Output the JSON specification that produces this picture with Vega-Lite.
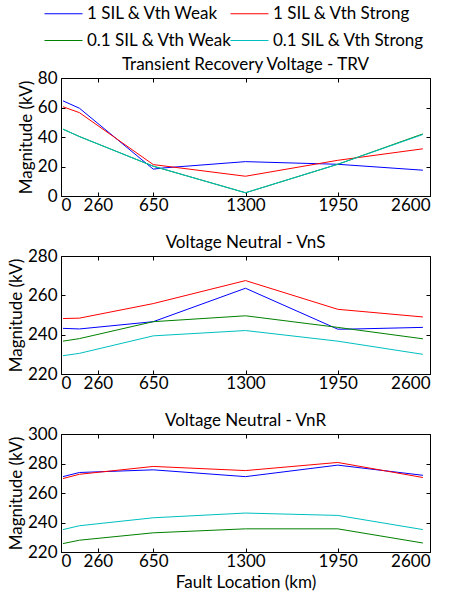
{
  "$schema": "https://vega.github.io/schema/vega-lite/v6.json",
  "padding": {"left": 6, "top": 3, "right": 10, "bottom": 2},
  "config": {
    "font": "Lato",
    "view": {"stroke": "#000000", "strokeWidth": 1},
    "axis": {"grid": false, "domain": false, "tickColor": "#000000", "tickSize": -4, "labelFont": "Lato", "labelFontSize": 17, "labelColor": "#000000", "titleFont": "Lato", "titleFontSize": 17, "titleFontWeight": "normal", "titleColor": "#000000", "labelPadding": 8, "titlePadding": 2, "format": "d"},
    "axisBottom": {"labelPadding": 5, "titlePadding": 5},
    "title": {"font": "Lato", "fontSize": 17, "fontWeight": "normal", "color": "#000000", "offset": -5},
    "legend": {"labelFont": "Lato", "labelFontSize": 17, "labelColor": "#000000"},
    "concat": {"spacing": 19}
  },
  "data": {"values": [
    {"panel": "TRV", "series": "1 SIL & Vth Weak", "x": 14, "y": 64.5},
    {"panel": "TRV", "series": "1 SIL & Vth Weak", "x": 130, "y": 59.5},
    {"panel": "TRV", "series": "1 SIL & Vth Weak", "x": 650, "y": 18.2},
    {"panel": "TRV", "series": "1 SIL & Vth Weak", "x": 718, "y": 19.0},
    {"panel": "TRV", "series": "1 SIL & Vth Weak", "x": 1300, "y": 23.3},
    {"panel": "TRV", "series": "1 SIL & Vth Weak", "x": 1950, "y": 21.5},
    {"panel": "TRV", "series": "1 SIL & Vth Weak", "x": 2550, "y": 17.5},
    {"panel": "TRV", "series": "1 SIL & Vth Strong", "x": 14, "y": 60.5},
    {"panel": "TRV", "series": "1 SIL & Vth Strong", "x": 130, "y": 56.5},
    {"panel": "TRV", "series": "1 SIL & Vth Strong", "x": 650, "y": 21.3},
    {"panel": "TRV", "series": "1 SIL & Vth Strong", "x": 1300, "y": 13.4},
    {"panel": "TRV", "series": "1 SIL & Vth Strong", "x": 1950, "y": 24.2},
    {"panel": "TRV", "series": "1 SIL & Vth Strong", "x": 2550, "y": 32.0},
    {"panel": "TRV", "series": "0.1 SIL & Vth Weak", "x": 14, "y": 45.3},
    {"panel": "TRV", "series": "0.1 SIL & Vth Weak", "x": 130, "y": 40.3},
    {"panel": "TRV", "series": "0.1 SIL & Vth Weak", "x": 650, "y": 20.2},
    {"panel": "TRV", "series": "0.1 SIL & Vth Weak", "x": 1300, "y": 2.2},
    {"panel": "TRV", "series": "0.1 SIL & Vth Weak", "x": 1950, "y": 21.5},
    {"panel": "TRV", "series": "0.1 SIL & Vth Weak", "x": 2550, "y": 42.1},
    {"panel": "TRV", "series": "0.1 SIL & Vth Strong", "x": 14, "y": 45.3},
    {"panel": "TRV", "series": "0.1 SIL & Vth Strong", "x": 130, "y": 40.3},
    {"panel": "TRV", "series": "0.1 SIL & Vth Strong", "x": 650, "y": 20.2},
    {"panel": "TRV", "series": "0.1 SIL & Vth Strong", "x": 1300, "y": 2.2},
    {"panel": "TRV", "series": "0.1 SIL & Vth Strong", "x": 1950, "y": 21.5},
    {"panel": "TRV", "series": "0.1 SIL & Vth Strong", "x": 2550, "y": 41.7},

    {"panel": "VnS", "series": "1 SIL & Vth Weak", "x": 14, "y": 243.2},
    {"panel": "VnS", "series": "1 SIL & Vth Weak", "x": 130, "y": 242.9},
    {"panel": "VnS", "series": "1 SIL & Vth Weak", "x": 650, "y": 246.6},
    {"panel": "VnS", "series": "1 SIL & Vth Weak", "x": 1300, "y": 263.6},
    {"panel": "VnS", "series": "1 SIL & Vth Weak", "x": 1950, "y": 242.8},
    {"panel": "VnS", "series": "1 SIL & Vth Weak", "x": 2010, "y": 242.8},
    {"panel": "VnS", "series": "1 SIL & Vth Weak", "x": 2550, "y": 243.7},
    {"panel": "VnS", "series": "1 SIL & Vth Strong", "x": 14, "y": 248.2},
    {"panel": "VnS", "series": "1 SIL & Vth Strong", "x": 130, "y": 248.4},
    {"panel": "VnS", "series": "1 SIL & Vth Strong", "x": 650, "y": 255.8},
    {"panel": "VnS", "series": "1 SIL & Vth Strong", "x": 1300, "y": 267.5},
    {"panel": "VnS", "series": "1 SIL & Vth Strong", "x": 1950, "y": 252.9},
    {"panel": "VnS", "series": "1 SIL & Vth Strong", "x": 2550, "y": 249.0},
    {"panel": "VnS", "series": "0.1 SIL & Vth Weak", "x": 14, "y": 236.7},
    {"panel": "VnS", "series": "0.1 SIL & Vth Weak", "x": 130, "y": 238.0},
    {"panel": "VnS", "series": "0.1 SIL & Vth Weak", "x": 650, "y": 246.6},
    {"panel": "VnS", "series": "0.1 SIL & Vth Weak", "x": 1300, "y": 249.6},
    {"panel": "VnS", "series": "0.1 SIL & Vth Weak", "x": 1950, "y": 243.7},
    {"panel": "VnS", "series": "0.1 SIL & Vth Weak", "x": 2550, "y": 237.9},
    {"panel": "VnS", "series": "0.1 SIL & Vth Strong", "x": 14, "y": 229.3},
    {"panel": "VnS", "series": "0.1 SIL & Vth Strong", "x": 130, "y": 230.5},
    {"panel": "VnS", "series": "0.1 SIL & Vth Strong", "x": 650, "y": 239.4},
    {"panel": "VnS", "series": "0.1 SIL & Vth Strong", "x": 1300, "y": 242.1},
    {"panel": "VnS", "series": "0.1 SIL & Vth Strong", "x": 1950, "y": 236.7},
    {"panel": "VnS", "series": "0.1 SIL & Vth Strong", "x": 2550, "y": 230.0},

    {"panel": "VnR", "series": "1 SIL & Vth Weak", "x": 14, "y": 271.1},
    {"panel": "VnR", "series": "1 SIL & Vth Weak", "x": 130, "y": 273.9},
    {"panel": "VnR", "series": "1 SIL & Vth Weak", "x": 650, "y": 275.7},
    {"panel": "VnR", "series": "1 SIL & Vth Weak", "x": 1300, "y": 271.1},
    {"panel": "VnR", "series": "1 SIL & Vth Weak", "x": 1950, "y": 278.9},
    {"panel": "VnR", "series": "1 SIL & Vth Weak", "x": 2550, "y": 272.0},
    {"panel": "VnR", "series": "1 SIL & Vth Strong", "x": 14, "y": 269.8},
    {"panel": "VnR", "series": "1 SIL & Vth Strong", "x": 130, "y": 272.7},
    {"panel": "VnR", "series": "1 SIL & Vth Strong", "x": 650, "y": 278.0},
    {"panel": "VnR", "series": "1 SIL & Vth Strong", "x": 1300, "y": 275.2},
    {"panel": "VnR", "series": "1 SIL & Vth Strong", "x": 1950, "y": 280.7},
    {"panel": "VnR", "series": "1 SIL & Vth Strong", "x": 2550, "y": 270.5},
    {"panel": "VnR", "series": "0.1 SIL & Vth Weak", "x": 14, "y": 225.7},
    {"panel": "VnR", "series": "0.1 SIL & Vth Weak", "x": 130, "y": 228.0},
    {"panel": "VnR", "series": "0.1 SIL & Vth Weak", "x": 650, "y": 233.0},
    {"panel": "VnR", "series": "0.1 SIL & Vth Weak", "x": 1300, "y": 235.7},
    {"panel": "VnR", "series": "0.1 SIL & Vth Weak", "x": 1950, "y": 235.7},
    {"panel": "VnR", "series": "0.1 SIL & Vth Weak", "x": 2550, "y": 226.1},
    {"panel": "VnR", "series": "0.1 SIL & Vth Strong", "x": 14, "y": 235.2},
    {"panel": "VnR", "series": "0.1 SIL & Vth Strong", "x": 130, "y": 237.8},
    {"panel": "VnR", "series": "0.1 SIL & Vth Strong", "x": 650, "y": 243.2},
    {"panel": "VnR", "series": "0.1 SIL & Vth Strong", "x": 1300, "y": 246.4},
    {"panel": "VnR", "series": "0.1 SIL & Vth Strong", "x": 1950, "y": 244.8},
    {"panel": "VnR", "series": "0.1 SIL & Vth Strong", "x": 2550, "y": 235.2}
  ]},
  "vconcat": [
    {
      "width": 369, "height": 118,
      "title": "Transient Recovery Voltage - TRV",
      "transform": [{"filter": "datum.panel === 'TRV'"}],
      "resolve": {"axis": {"x": "independent", "y": "independent"}},
      "layer": [
        {
          "mark": {"type": "line", "strokeWidth": 1},
          "encoding": {
            "x": {"field": "x", "type": "quantitative", "scale": {"domain": [0, 2600], "nice": false}, "axis": {"values": [0, 260, 650, 1300, 1950, 2600], "title": null}},
            "y": {"field": "y", "type": "quantitative", "scale": {"domain": [0, 80], "nice": false}, "axis": {"values": [0, 20, 40, 60, 80], "title": "Magnitude (kV)"}},
            "color": {"field": "series", "type": "nominal", "scale": {"domain": ["1 SIL & Vth Weak", "1 SIL & Vth Strong", "0.1 SIL & Vth Weak", "0.1 SIL & Vth Strong"], "range": ["#0000ff", "#ff0000", "#008000", "#00bfbf"]},
              "legend": {"orient": "none", "direction": "horizontal", "legendX": -8, "legendY": -75, "columns": 2, "title": null, "symbolType": "M-1.9,0H1.9", "symbolSize": 400, "symbolStrokeWidth": 1, "labelOffset": 13, "rowPadding": 8, "columnPadding": -5}}
          }
        },
        {
          "mark": {"type": "point", "opacity": 0},
          "encoding": {
            "x": {"field": "x", "type": "quantitative", "axis": {"orient": "top", "values": [0, 260, 650, 1300, 1950, 2600], "labels": false, "title": null}},
            "y": {"field": "y", "type": "quantitative", "axis": {"orient": "right", "values": [0, 20, 40, 60, 80], "labels": false, "title": null}}
          }
        }
      ]
    },
    {
      "width": 369, "height": 118,
      "title": "Voltage Neutral - VnS",
      "transform": [{"filter": "datum.panel === 'VnS'"}],
      "resolve": {"axis": {"x": "independent", "y": "independent"}},
      "layer": [
        {
          "mark": {"type": "line", "strokeWidth": 1},
          "encoding": {
            "x": {"field": "x", "type": "quantitative", "scale": {"domain": [0, 2600], "nice": false}, "axis": {"values": [0, 260, 650, 1300, 1950, 2600], "title": null}},
            "y": {"field": "y", "type": "quantitative", "scale": {"domain": [220, 280], "nice": false, "zero": false}, "axis": {"values": [220, 240, 260, 280], "title": "Magnitude (kV)"}},
            "color": {"field": "series", "type": "nominal", "scale": {"domain": ["1 SIL & Vth Weak", "1 SIL & Vth Strong", "0.1 SIL & Vth Weak", "0.1 SIL & Vth Strong"], "range": ["#0000ff", "#ff0000", "#008000", "#00bfbf"]}}
          }
        },
        {
          "mark": {"type": "point", "opacity": 0},
          "encoding": {
            "x": {"field": "x", "type": "quantitative", "axis": {"orient": "top", "values": [0, 260, 650, 1300, 1950, 2600], "labels": false, "title": null}},
            "y": {"field": "y", "type": "quantitative", "axis": {"orient": "right", "values": [220, 240, 260, 280], "labels": false, "title": null}}
          }
        }
      ]
    },
    {
      "width": 369, "height": 118,
      "title": "Voltage Neutral - VnR",
      "transform": [{"filter": "datum.panel === 'VnR'"}],
      "resolve": {"axis": {"x": "independent", "y": "independent"}},
      "layer": [
        {
          "mark": {"type": "line", "strokeWidth": 1},
          "encoding": {
            "x": {"field": "x", "type": "quantitative", "scale": {"domain": [0, 2600], "nice": false}, "axis": {"values": [0, 260, 650, 1300, 1950, 2600], "title": "Fault Location (km)"}},
            "y": {"field": "y", "type": "quantitative", "scale": {"domain": [220, 300], "nice": false, "zero": false}, "axis": {"values": [220, 240, 260, 280, 300], "title": "Magnitude (kV)"}},
            "color": {"field": "series", "type": "nominal", "scale": {"domain": ["1 SIL & Vth Weak", "1 SIL & Vth Strong", "0.1 SIL & Vth Weak", "0.1 SIL & Vth Strong"], "range": ["#0000ff", "#ff0000", "#008000", "#00bfbf"]}}
          }
        },
        {
          "mark": {"type": "point", "opacity": 0},
          "encoding": {
            "x": {"field": "x", "type": "quantitative", "axis": {"orient": "top", "values": [0, 260, 650, 1300, 1950, 2600], "labels": false, "title": null}},
            "y": {"field": "y", "type": "quantitative", "axis": {"orient": "right", "values": [220, 240, 260, 280, 300], "labels": false, "title": null}}
          }
        }
      ]
    }
  ]
}
